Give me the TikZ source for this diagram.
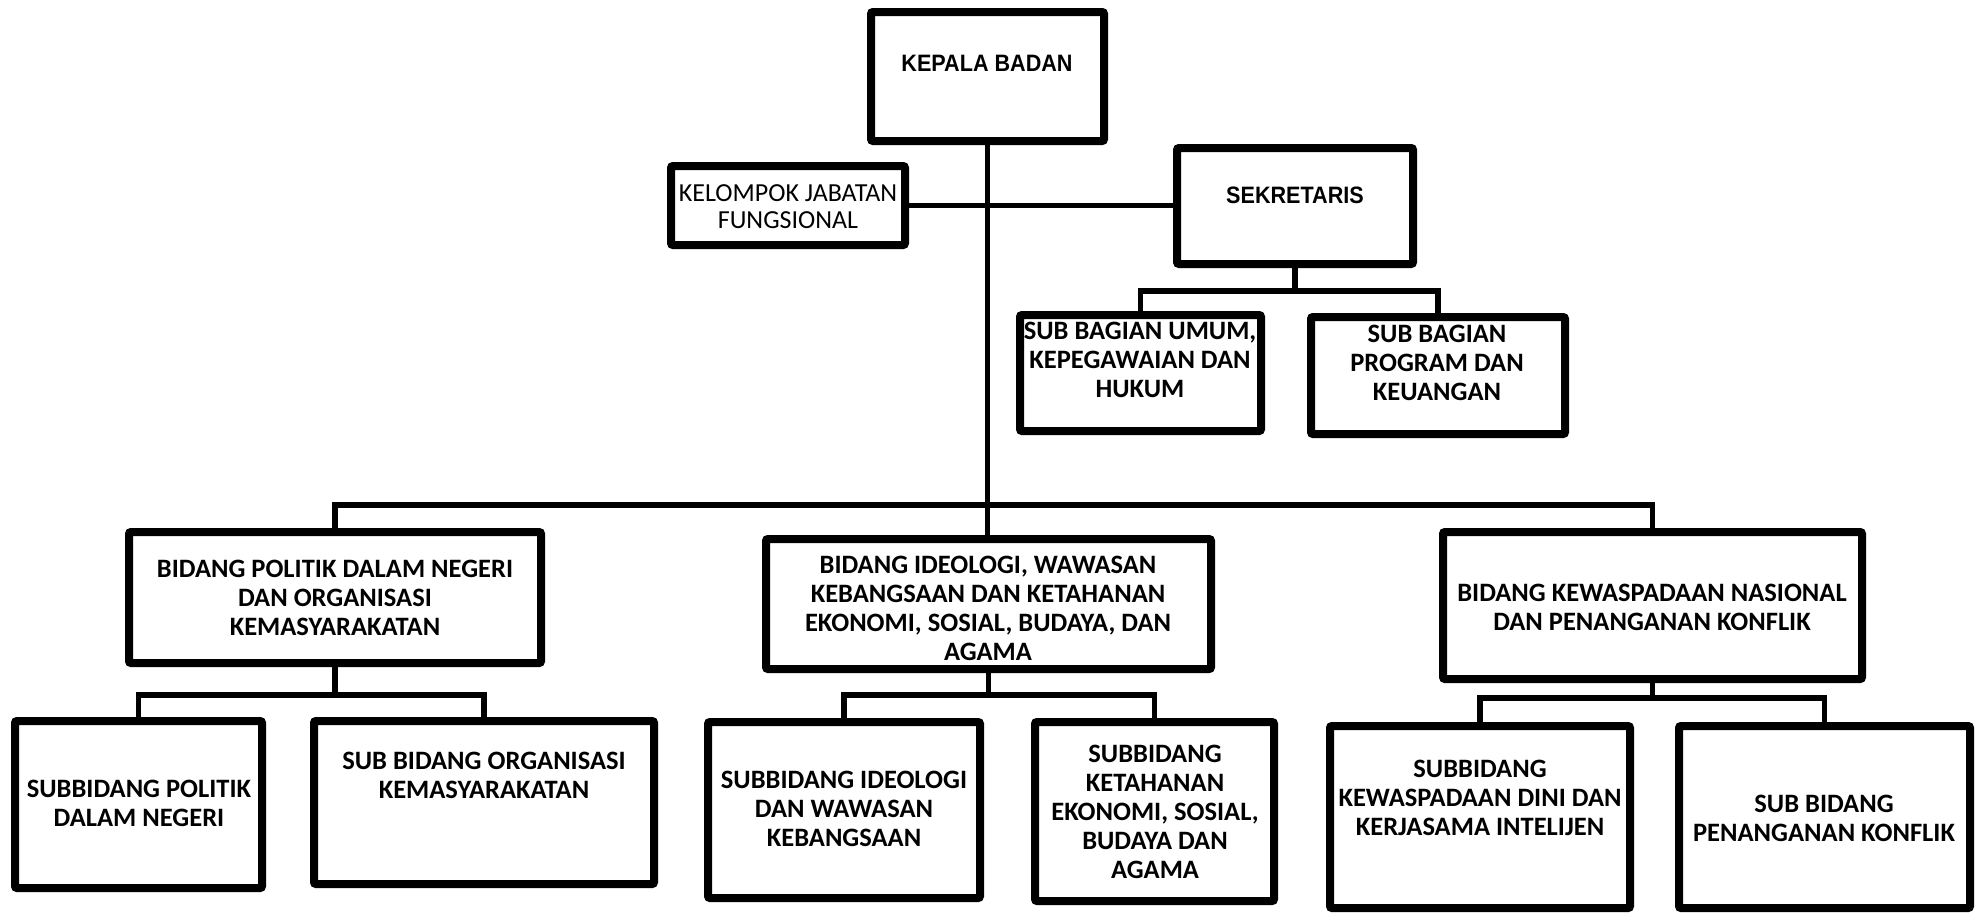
\documentclass[tikz,border=0pt]{standalone}
\usepackage{fontspec}
\setmainfont{Carlito}
\newfontfamily\narrowfont[FakeStretch=0.91]{Liberation Sans Bold}
\usetikzlibrary{shadows}
\tikzset{
  box/.style={draw=black, line width=6pt, fill=white, rounded corners=1.5pt, inner sep=0pt,
    drop shadow={shadow xshift=2pt, shadow yshift=-2.5pt, opacity=0.22, fill=black}},
  conn/.style={draw=black, line width=4pt, line join=miter},
  txt/.style={align=center, inner sep=0pt, font={\fontsize{19.9}{21.75}\selectfont\bfseries}},
  txtreg/.style={align=center, inner sep=0pt, font={\fontsize{19.5}{20.25}\selectfont}},
  txtnar/.style={align=center, inner sep=0pt, font={\narrowfont\fontsize{17.8}{20}\selectfont}}
}
\newcommand\orgbox[5]{\node[box, minimum width={(#4-#2-8)*0.75pt}, minimum height={(#5-#3-8)*0.75pt}] (#1) at ({(#2+#4)/2},{(#3+#5)/2}) {};}
\begin{document}
\begin{tikzpicture}[x=0.75pt, y=-0.75pt]
\useasboundingbox[fill=white] (0,0) rectangle (1980,914);
% coordinates of buses
\coordinate (bus) at (987.5,505);
\coordinate (sekbus) at (1295,291);
\coordinate (polbus) at (335,695);
\coordinate (ideobus) at (988.5,695);
\coordinate (kewbus) at (1652.5,698);
% boxes
\orgbox{kb}{867}{8}{1108}{145}
\orgbox{kjf}{667}{162}{909}{249}
\orgbox{sek}{1173}{144}{1417}{268}
\orgbox{umum}{1016}{311}{1265}{435}
\orgbox{prog}{1307}{313}{1569}{438}
\orgbox{pol}{125}{528}{545}{667}
\orgbox{ideo}{762}{535}{1215}{673}
\orgbox{kew}{1439}{528}{1866}{683}
\orgbox{sbpol}{11}{717}{266}{892}
\orgbox{sborg}{310}{717}{658}{888}
\orgbox{sbideo}{704}{718}{984}{902}
\orgbox{sbket}{1031}{718}{1278}{905}
\orgbox{sbkew}{1326}{722}{1634}{912}
\orgbox{sbpen}{1675}{722}{1974}{912}
% connectors
\draw[conn] (kb.south) -- (kb.south |- ideo.north);
\draw[conn] (kjf.east) -- (kjf.east -| sek.west);
\draw[conn] (sek.south) -- (sekbus);
\draw[conn] (umum.north) |- (sekbus) -| (prog.north);
\draw[conn] (pol.north) |- (bus) -| (kew.north);
\draw[conn] (pol.south) -- (polbus);
\draw[conn] (sbpol.north) |- (polbus) -| (sborg.north);
\draw[conn] (ideo.south) -- (ideobus);
\draw[conn] (sbideo.north) |- (ideobus) -| (sbket.north);
\draw[conn] (kew.south) -- (kewbus);
\draw[conn] (sbkew.north) |- (kewbus) -| (sbpen.north);
% texts
\node[txtnar] (kb-t) at (987,63) {KEPALA BADAN};
\node[txtnar] (sek-t) at (1295,195) {SEKRETARIS};
\node[txtreg] (kjf-t) at (788,206.5) {KELOMPOK JABATAN\\FUNGSIONAL};
\node[txt] (umum-t) at (1140,360) {SUB BAGIAN UMUM,\\KEPEGAWAIAN DAN\\HUKUM};
\node[txt] (prog-t) at (1437,363) {SUB BAGIAN\\PROGRAM DAN\\KEUANGAN};
\node[txt] (pol-t) at (335,598) {BIDANG POLITIK DALAM NEGERI\\DAN ORGANISASI\\KEMASYARAKATAN};
\node[txt] (ideo-t) at (988,608) {BIDANG IDEOLOGI, WAWASAN\\KEBANGSAAN DAN KETAHANAN\\EKONOMI, SOSIAL, BUDAYA, DAN\\AGAMA};
\node[txt] (kew-t) at (1652,607) {BIDANG KEWASPADAAN NASIONAL\\DAN PENANGANAN KONFLIK};
\node[txt] (sbpol-t) at (139,803) {SUBBIDANG POLITIK\\DALAM NEGERI};
\node[txt] (sborg-t) at (484,775) {SUB BIDANG ORGANISASI\\KEMASYARAKATAN};
\node[txt] (sbideo-t) at (844,809) {SUBBIDANG IDEOLOGI\\DAN WAWASAN\\KEBANGSAAN};
\node[txt] (sbket-t) at (1155,812) {SUBBIDANG\\KETAHANAN\\EKONOMI, SOSIAL,\\BUDAYA DAN\\AGAMA};
\node[txt] (sbkew-t) at (1480,798) {SUBBIDANG\\KEWASPADAAN DINI DAN\\KERJASAMA INTELIJEN};
\node[txt] (sbpen-t) at (1824,818) {SUB BIDANG\\PENANGANAN KONFLIK};
\end{tikzpicture}
\end{document}
